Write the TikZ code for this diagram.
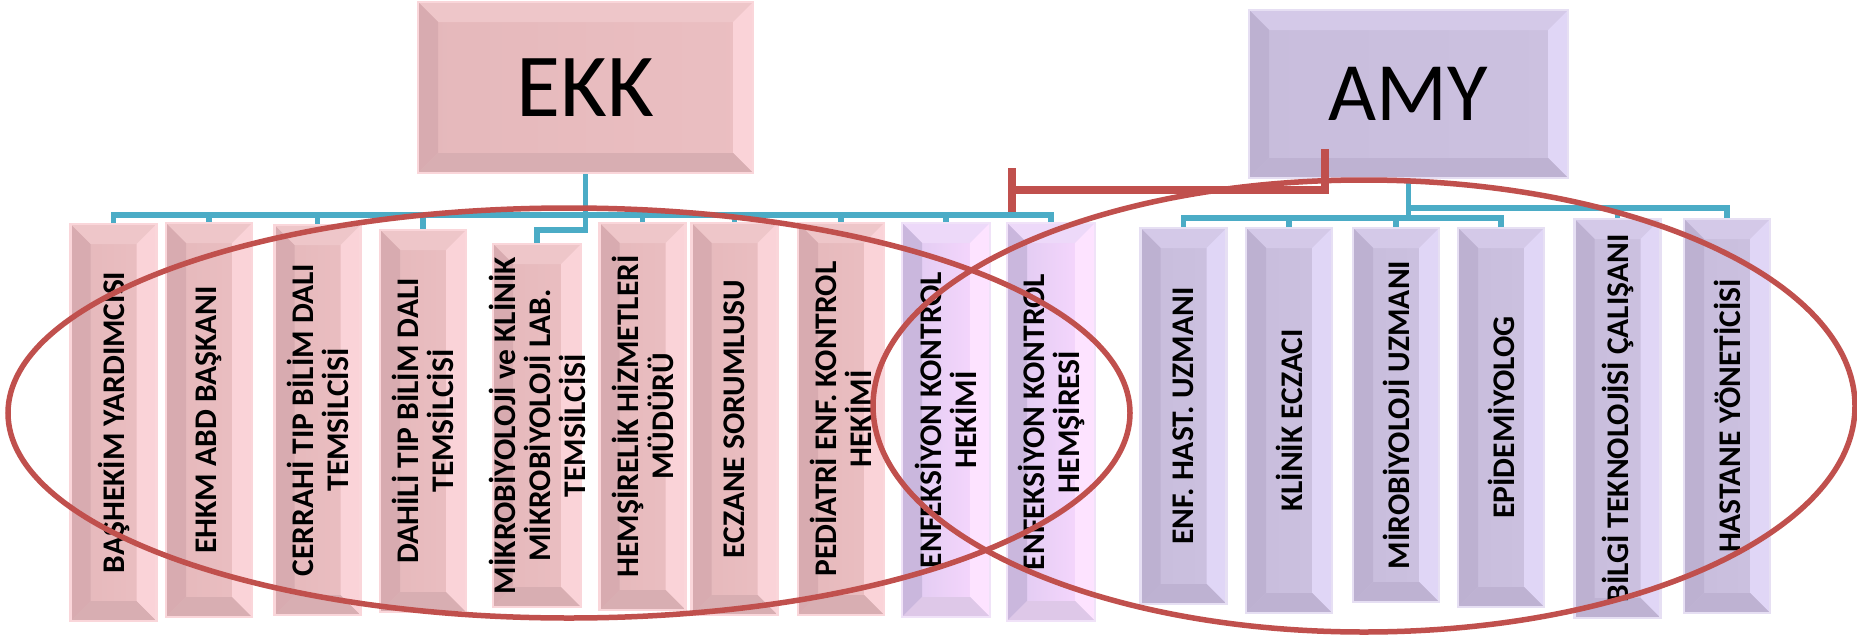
\documentclass[tikz,border=0pt]{standalone}
\usepackage{fontspec}
\setmainfont{Carlito}
\usetikzlibrary{arrows.meta,positioning}
\definecolor{linkBlue}{HTML}{4BACC6}
\definecolor{ringRed}{HTML}{C0504D}
\definecolor{pkM}{HTML}{E5B8BB}\definecolor{pkN}{HTML}{EBBFC2}\definecolor{pkT}{HTML}{EEC6C9}
\definecolor{pkL}{HTML}{D8ABB0}\definecolor{pkR}{HTML}{FAD3D8}\definecolor{pkB}{HTML}{D8AEB2}
\definecolor{pkE}{HTML}{FAD6DA}
\definecolor{puM}{HTML}{C8BDDC}\definecolor{puN}{HTML}{CCC1E0}\definecolor{puT}{HTML}{D4C9E8}
\definecolor{puL}{HTML}{BDB1D1}\definecolor{puR}{HTML}{E0D6F6}\definecolor{puB}{HTML}{BEB2D2}
\definecolor{puE}{HTML}{E6DFF3}
\definecolor{lvM}{HTML}{DECAF0}\definecolor{lvN}{HTML}{FAD8FF}\definecolor{lvT}{HTML}{EDD9F9}
\definecolor{lvL}{HTML}{CAB7DD}\definecolor{lvR}{HTML}{FDE3FF}\definecolor{lvB}{HTML}{DEC8E8}
\definecolor{lvE}{HTML}{F0E2F8}
\newcommand\bd{20pt}
\tikzstyle{bevel}=[draw=#1E,line width=2.5pt,path picture={
  \coordinate (nw) at (path picture bounding box.north west);
  \coordinate (ne) at (path picture bounding box.north east);
  \coordinate (sw) at (path picture bounding box.south west);
  \coordinate (se) at (path picture bounding box.south east);
  \coordinate (inw) at ([shift={(\bd,-\bd)}]nw);
  \coordinate (ine) at ([shift={(-\bd,-\bd)}]ne);
  \coordinate (isw) at ([shift={(\bd,\bd)}]sw);
  \coordinate (ise) at ([shift={(-\bd,\bd)}]se);
  \shade[left color=#1M,right color=#1N] (sw) rectangle (ne);
  \fill[#1T] (nw) -- (ne) -- (ine) -- (inw) -- cycle;
  \fill[#1L] (nw) -- (inw) -- (isw) -- (sw) -- cycle;
  \fill[#1R] (ne) -- (ine) -- (ise) -- (se) -- cycle;
  \fill[#1B] (sw) -- (isw) -- (ise) -- (se) -- cycle;
}]
\tikzstyle{head}=[rectangle,inner sep=0pt]
\tikzstyle{kid}=[rectangle,inner sep=0pt,minimum width=86]
\tikzstyle{kidtext}=[rotate=90,align=center,inner sep=0pt,font=\fontsize{31.5}{35}\selectfont\bfseries]
\tikzstyle{link}=[draw=linkBlue,line width=5.5pt]
\tikzstyle{ring}=[draw=ringRed,line width=5.5pt]
\tikzstyle{tie}=[draw=ringRed,line width=8pt,-{Bar[width=44pt]}]
\begin{document}
\begin{tikzpicture}[x=1pt,y=-1pt]
\useasboundingbox (0,0) rectangle (1857,640);
\node (ekk) [head,bevel=pk,minimum width=335,minimum height=171,font=\fontsize{90}{90}\selectfont] at (585.5,87.5) {EKK};
\node (amy) [head,bevel=pu,minimum width=319,minimum height=168,font=\fontsize{83}{83}\selectfont] at (1408.5,94) {AMY};
\node (bashekim) [kid,bevel=pk,minimum height=397,label={[kidtext]center:BAŞHEKİM YARDIMCISI}] at (113.5,422.5) {};
\node (ehkm) [kid,bevel=pk,minimum height=394,label={[kidtext]center:EHKM ABD BAŞKANI}] at (209,420) {};
\node (cerrahi) [kid,bevel=pk,minimum height=390,label={[kidtext]center:{CERRAHİ TIP BİLİM DALI\\TEMSİLCİSİ}}] at (317.5,420) {};
\node (dahili) [kid,bevel=pk,minimum height=382,label={[kidtext]center:{DAHİLİ TIP BİLİM DALI\\TEMSİLCİSİ}}] at (423,421) {};
\node (mikro) [kid,bevel=pk,minimum width=88,minimum height=363,label={[kidtext]center:{MİKROBİYOLOJİ ve KLİNİK\\MİKROBİYOLOJİ LAB.\\TEMSİLCİSİ}}] at (537,425.5) {};
\node (hemsirelik) [kid,bevel=pk,minimum height=387,label={[kidtext]center:{HEMŞİRELİK HİZMETLERİ\\MÜDÜRÜ}}] at (642.5,416.5) {};
\node (eczane) [kid,bevel=pk,minimum height=392,label={[kidtext]center:ECZANE SORUMLUSU}] at (734.5,419) {};
\node (pediatri) [kid,bevel=pk,minimum height=392,label={[kidtext]center:{PEDİATRİ ENF. KONTROL\\HEKİMİ}}] at (841,419) {};
\node (ekHekim) [kid,bevel=lv,minimum width=88,minimum height=394,label={[kidtext]center:{ENFEKSİYON KONTROL\\HEKİMİ}}] at (946,420) {};
\node (ekHemsire) [kid,bevel=lv,minimum width=88,minimum height=398,label={[kidtext]center:{ENFEKSİYON KONTROL\\HEMŞİRESİ}}] at (1051,422) {};
\node (enfHast) [kid,bevel=pu,minimum height=376,label={[kidtext]center:ENF. HAST. UZMANI}] at (1183.5,416) {};
\node (klinik) [kid,bevel=pu,minimum height=385,label={[kidtext]center:KLİNİK ECZACI}] at (1289,420.5) {};
\node (mirob) [kid,bevel=pu,minimum height=374,label={[kidtext]center:MİROBİYOLOJİ UZMANI}] at (1396,415) {};
\node (epidem) [kid,bevel=pu,minimum height=379,label={[kidtext]center:EPİDEMİYOLOG}] at (1501,417.5) {};
\node (bilgi) [kid,bevel=pu,minimum height=399,label={[kidtext]center:BİLGİ TEKNOLOJİSİ ÇALIŞANI}] at (1617.5,418.5) {};
\node (hastane) [kid,bevel=pu,minimum height=394,label={[kidtext]center:HASTANE YÖNETİCİSİ}] at (1727,416) {};
\coordinate (ekkBus) at (585.5,215);
\coordinate (amyLow) at (1408.5,218);
\coordinate (amyHigh) at (1408.5,208);
\coordinate (tieTop) at (1325,149);
\coordinate (tieEnd) at (1008,190);
\draw [link] (ekk.south) -- (ekkBus);
\foreach \k in {bashekim,ehkm,cerrahi,dahili,hemsirelik,eczane,pediatri,ekHekim,ekHemsire}
  \draw [link] (ekkBus) -| (\k.north);
\draw [link] (ekkBus) -- ++(0,15) -| (mikro.north);
\draw [link] (amy.south) -- (amyLow);
\foreach \k in {enfHast,klinik,mirob,epidem}
  \draw [link] (amyLow) -| (\k.north);
\foreach \k in {bilgi,hastane}
  \draw [link] (amyHigh) -| (\k.north);
\draw [ring] (569,413) ellipse [x radius=561,y radius=205];
\draw [ring] (1364,406) ellipse [x radius=491,y radius=226];
\draw [tie] (tieTop) |- (tieEnd);
\end{tikzpicture}
\end{document}
